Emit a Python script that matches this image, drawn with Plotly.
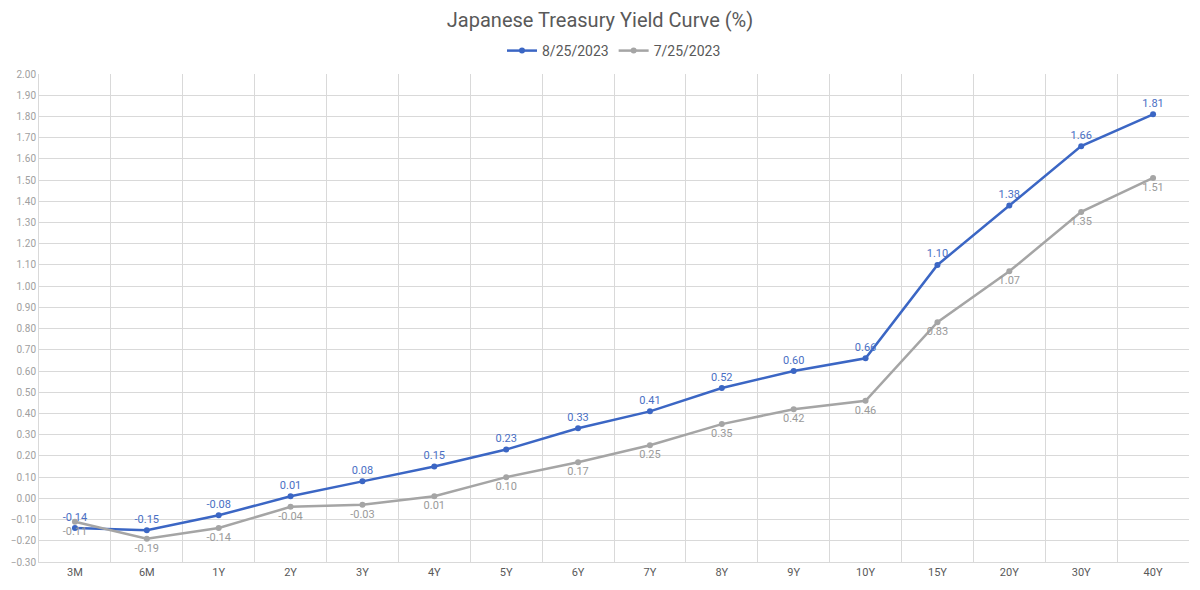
import plotly.graph_objects as go

categories = ["3M", "6M", "1Y", "2Y", "3Y", "4Y", "5Y", "6Y", "7Y", "8Y", "9Y", "10Y", "15Y", "20Y", "30Y", "40Y"]
aug_vals = [-0.14, -0.15, -0.08, 0.01, 0.08, 0.15, 0.23, 0.33, 0.41, 0.52, 0.60, 0.66, 1.10, 1.38, 1.66, 1.81]
jul_vals = [-0.11, -0.19, -0.14, -0.04, -0.03, 0.01, 0.10, 0.17, 0.25, 0.35, 0.42, 0.46, 0.83, 1.07, 1.35, 1.51]
series_names = ["8/25/2023", "7/25/2023"]

BLUE = "#3B66C4"
GRAY = "#A5A5A5"
FONT = "Roboto"

fig = go.Figure()
fig.add_trace(go.Scatter(
    x=categories, y=aug_vals, name=series_names[0], mode="lines+markers+text",
    line=dict(color=BLUE, width=2.5), marker=dict(size=6, color=BLUE),
    text=[f"{v:.2f}" for v in aug_vals], textposition="top center",
    textfont=dict(color="#4A6FC4", size=11, family=FONT),
))
fig.add_trace(go.Scatter(
    x=categories, y=jul_vals, name=series_names[1], mode="lines+markers+text",
    line=dict(color=GRAY, width=2.5), marker=dict(size=6, color=GRAY),
    text=[f"{v:.2f}" for v in jul_vals], textposition="bottom center",
    textfont=dict(color="#9a9a9a", size=11, family=FONT),
))

fig.update_layout(
    width=1200, height=590,
    margin=dict(l=39, r=11, t=74, b=28, autoexpand=False),
    paper_bgcolor="white", plot_bgcolor="white",
    font=dict(family=FONT, color="#595959"),
    title=dict(text="Japanese Treasury Yield Curve (%)", x=0.5, xanchor="center",
               y=1 - 20 / 590, yref="container", yanchor="middle",
               font=dict(size=20, color="#595959", family=FONT)),
    legend=dict(orientation="h", x=0.5, xanchor="center", y=1 - 51 / 590, yref="container",
                yanchor="middle", font=dict(size=14, color="#595959", family=FONT),
                itemwidth=30),
    showlegend=True,
)
fig.update_xaxes(
    type="category", tickson="boundaries", showgrid=True, gridcolor="#D9D9D9", gridwidth=1,
    showline=True, linecolor="#D9D9D9", mirror=False, ticks="",
    tickfont=dict(size=11, color="#595959", family=FONT),
    range=[-0.5, 15.5],
)
fig.update_yaxes(
    range=[-0.3, 2.0], dtick=0.1, tick0=0, tickformat=".2f", showgrid=True, gridcolor="#D9D9D9",
    zeroline=False, showline=True, linecolor="#D9D9D9",
    tickfont=dict(size=10, color="#A0A0A0", family=FONT),
)
fig.write_html("out.html")
